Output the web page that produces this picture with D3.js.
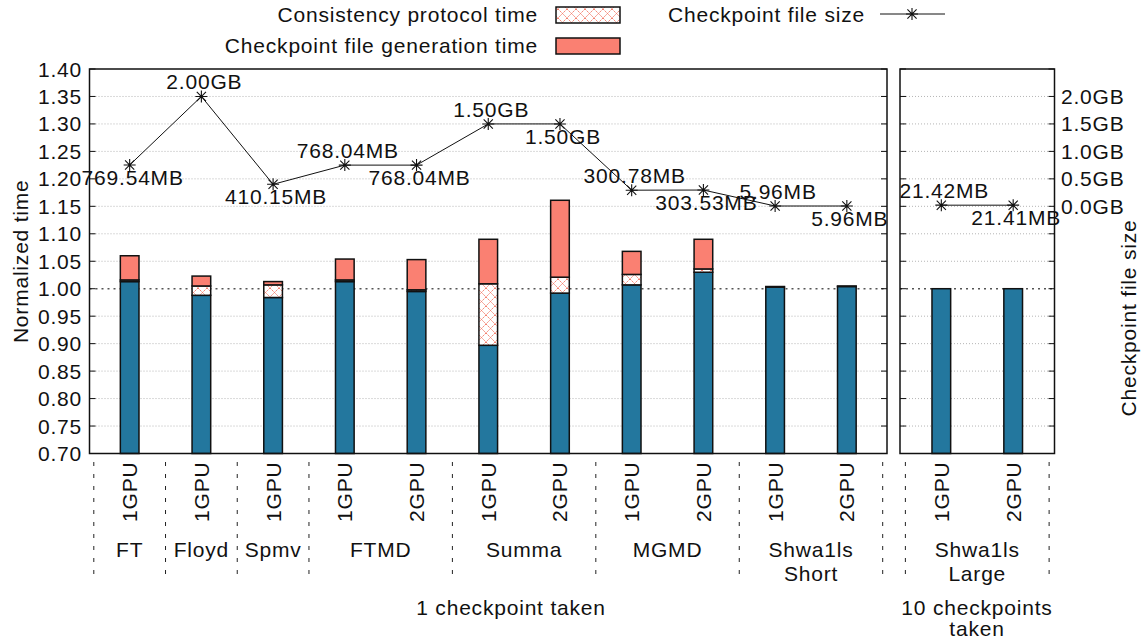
<!DOCTYPE html>
<html>
<head>
<meta charset="utf-8">
<script src="https://cdn.jsdelivr.net/npm/d3@7"></script>
<style>
  body { margin: 0; background: #fff; }
  text { font-family: "Liberation Sans", Arial, sans-serif; font-size: 21px; letter-spacing: 0.8px; fill: #111; }
</style>
</head>
<body>
<svg id="chart" width="1146" height="643"></svg>
<script>
// ---- data: 1 checkpoint taken ----
const benchmarks = ["FT", "Floyd", "Spmv", "FTMD", "FTMD", "Summa", "Summa", "MGMD", "MGMD", "Shwa1ls Short", "Shwa1ls Short"];
const gpuLabels = ["1GPU", "1GPU", "1GPU", "1GPU", "2GPU", "1GPU", "2GPU", "1GPU", "2GPU", "1GPU", "2GPU"];
const baseTime = [1.013, 0.988, 0.984, 1.013, 0.995, 0.897, 0.992, 1.007, 1.030, 1.003, 1.004];
const protocolTime = [0.003, 0.017, 0.023, 0.003, 0.003, 0.112, 0.029, 0.019, 0.006, 0.000, 0.000];
const generationTime = [0.044, 0.018, 0.006, 0.038, 0.055, 0.081, 0.140, 0.042, 0.054, 0.001, 0.001];
const fileSizeMB = [769.54, 2048, 410.15, 768.04, 768.04, 1536, 1536, 300.78, 303.53, 5.96, 5.96];

// ---- data: 10 checkpoints taken ----
const benchmarksMulti = ["Shwa1ls Large", "Shwa1ls Large"];
const gpuLabelsMulti = ["1GPU", "2GPU"];
const baseTimeMulti = [1.000, 1.000];
const protocolTimeMulti = [0.000, 0.000];
const generationTimeMulti = [0.000, 0.000];
const fileSizeMBMulti = [21.42, 21.41];

// ---- axes ----
const timeTicks = [0.70, 0.75, 0.80, 0.85, 0.90, 0.95, 1.00, 1.05, 1.10, 1.15, 1.20, 1.25, 1.30, 1.35, 1.40];
const sizeTicksGB = [0.0, 0.5, 1.0, 1.5, 2.0];
const legendLabels = ["Consistency protocol time", "Checkpoint file generation time", "Checkpoint file size"];
const axisTitles = ["Normalized time", "Checkpoint file size"];
const panelTitles = ["1 checkpoint taken", "10 checkpoints taken"];

const COLORS = { base: "#23779e", generation: "#fa8072", hatch: "#f4806f" };

const svg = d3.select("#chart");
const defs = svg.append("defs");
const pat = defs.append("pattern").attr("id", "hatch").attr("patternUnits", "userSpaceOnUse")
  .attr("width", 9).attr("height", 9);
pat.append("rect").attr("width", 9).attr("height", 9).attr("fill", "#fff");
pat.append("path").attr("d", "M0,0L9,9M9,0L0,9M-1,8L1,10M8,-1L10,1")
  .attr("stroke", COLORS.hatch).attr("stroke-width", 1).attr("stroke-dasharray", "2,1");

const plotTop = 69, plotBottom = 453.5;
const y = d3.scaleLinear().domain([0.70, 1.40]).range([plotBottom, plotTop]);
// file size shares the vertical space: 0 GB sits at 1.15, 2 GB at 1.35
const ySize = d3.scaleLinear().domain([0, 2]).range([y(1.15), y(1.35)]);

const fmtSize = mb => mb >= 1024 ? (mb / 1024).toFixed(2) + "GB" : mb.toFixed(2) + "MB";

function star(g, cx, cy) {
  const a = 6, d = 4.6;
  g.append("path")
    .attr("d", `M${cx - a},${cy}L${cx + a},${cy}M${cx},${cy - a}L${cx},${cy + a}` +
               `M${cx - d},${cy - d}L${cx + d},${cy + d}M${cx - d},${cy + d}L${cx + d},${cy - d}`)
    .attr("stroke", "#111").attr("stroke-width", 1.1).attr("fill", "none");
}

function drawPanel(p) {
  const x = d3.scaleLinear().domain(p.domain).range([p.left, p.right]);
  const g = svg.append("g");
  const n = p.names.length;
  const idx = d3.range(n);

  // grid
  timeTicks.forEach(t => {
    const isOne = Math.abs(t - 1) < 1e-9;
    if (t <= 0.7001 || t >= 1.3999) return;
    g.append("line").attr("x1", p.left).attr("x2", p.right).attr("y1", y(t)).attr("y2", y(t))
      .attr("stroke", isOne ? "#555" : "#b5b5b5")
      .attr("stroke-width", isOne ? 1.5 : 1)
      .attr("stroke-dasharray", isOne ? "2,4" : "1,2");
  });

  // stacked bars
  const bw = 0.26 * (x(1) - x(0));
  const segs = [];
  idx.forEach(i => {
    const b = p.base[i], pr = p.protocol[i], ge = p.generation[i];
    segs.push({ i, y0: 0.70, y1: b, fill: COLORS.base });
    segs.push({ i, y0: b, y1: b + pr, fill: "url(#hatch)" });
    segs.push({ i, y0: b + pr, y1: b + pr + ge, fill: COLORS.generation });
  });
  g.append("g").selectAll("rect").data(segs).join("rect")
    .attr("x", d => x(d.i) - bw / 2).attr("width", bw)
    .attr("y", d => y(d.y1)).attr("height", d => Math.max(0, y(d.y0) - y(d.y1)))
    .attr("fill", d => d.fill).attr("stroke", "#111").attr("stroke-width", 1.5);

  // file size line
  const pts = idx.map(i => [x(i), ySize(p.size[i] / 1024)]);
  g.append("path").attr("d", d3.line()(pts)).attr("fill", "none").attr("stroke", "#111").attr("stroke-width", 1);
  pts.forEach(([cx, cy]) => star(g, cx, cy));
  idx.forEach(i => {
    const below = (p.offset + i) % 2 === 0;
    g.append("text").attr("x", pts[i][0] + 3).attr("y", pts[i][1] + (below ? 20 : -7))
      .attr("text-anchor", "middle").text(fmtSize(p.size[i]));
  });

  // frame + inward ticks on both sides
  g.append("rect").attr("x", p.left).attr("y", plotTop).attr("width", p.right - p.left).attr("height", plotBottom - plotTop)
    .attr("fill", "none").attr("stroke", "#111").attr("stroke-width", 1.5);
  timeTicks.forEach(t => {
    g.append("line").attr("x1", p.left).attr("x2", p.left + 6).attr("y1", y(t)).attr("y2", y(t)).attr("stroke", "#111");
    g.append("line").attr("x1", p.right).attr("x2", p.right - 6).attr("y1", y(t)).attr("y2", y(t)).attr("stroke", "#111");
  });

  // rotated GPU labels
  idx.forEach(i => {
    g.append("text").attr("transform", `translate(${x(i) + 7.5},${plotBottom + 8}) rotate(-90)`)
      .attr("text-anchor", "end").text(p.gpus[i]);
  });

  // benchmark groups
  const groups = [];
  idx.forEach(i => {
    const last = groups[groups.length - 1];
    if (last && last.name === p.names[i]) last.end = i; else groups.push({ name: p.names[i], start: i, end: i });
  });
  const sepX = [x(-0.5), ...groups.map(gr => x(gr.end + 0.5))];
  sepX.forEach(sx => g.append("line").attr("x1", sx).attr("x2", sx).attr("y1", 462).attr("y2", 578)
    .attr("stroke", "#222").attr("stroke-width", 1).attr("stroke-dasharray", "4,8"));
  groups.forEach(gr => {
    const cx = x((gr.start + gr.end) / 2);
    const t = g.append("text").attr("x", cx).attr("y", 557).attr("text-anchor", "middle");
    gr.name.split(" ").forEach((w, k) => t.append("tspan").attr("x", cx).attr("dy", k ? 24 : 0).text(w));
  });
  return x;
}

const x1 = drawPanel({ left: 89.5, right: 887, domain: [-0.56, 10.56], names: benchmarks, gpus: gpuLabels,
  base: baseTime, protocol: protocolTime, generation: generationTime, size: fileSizeMB, offset: 0 });
const x2 = drawPanel({ left: 900, right: 1054.5, domain: [-0.575, 1.575], names: benchmarksMulti, gpus: gpuLabelsMulti,
  base: baseTimeMulti, protocol: protocolTimeMulti, generation: generationTimeMulti, size: fileSizeMBMulti, offset: 1 });

// left axis labels
timeTicks.forEach(t => svg.append("text").attr("x", 82).attr("y", y(t) + 7.5).attr("text-anchor", "end").text(t.toFixed(2)));
svg.append("text").attr("transform", `translate(28,${(plotTop + plotBottom) / 2}) rotate(-90)`).attr("text-anchor", "middle").text(axisTitles[0]);

// right axis labels (file size)
sizeTicksGB.forEach(s => svg.append("text").attr("x", 1061).attr("y", ySize(s) + 7.5).text(s.toFixed(1) + "GB"));
svg.append("text").attr("transform", `translate(1136,318) rotate(-90)`).attr("text-anchor", "middle").text(axisTitles[1]);

// panel titles
svg.append("text").attr("x", 511).attr("y", 615).attr("text-anchor", "middle").text(panelTitles[0]);
const t2 = svg.append("text").attr("x", 977).attr("y", 615).attr("text-anchor", "middle");
t2.append("tspan").attr("x", 977).text("10 checkpoints");
t2.append("tspan").attr("x", 977).attr("dy", 21).text("taken");

// legend
const lg = svg.append("g");
lg.append("text").attr("x", 538).attr("y", 22).attr("text-anchor", "end").text(legendLabels[0]);
lg.append("rect").attr("x", 556).attr("y", 7).attr("width", 64).attr("height", 16)
  .attr("fill", "url(#hatch)").attr("stroke", "#111").attr("stroke-width", 1.5);
lg.append("text").attr("x", 538).attr("y", 53).attr("text-anchor", "end").text(legendLabels[1]);
lg.append("rect").attr("x", 556).attr("y", 38).attr("width", 64).attr("height", 16)
  .attr("fill", COLORS.generation).attr("stroke", "#111").attr("stroke-width", 1.5);
lg.append("text").attr("x", 865).attr("y", 22).attr("text-anchor", "end").text(legendLabels[2]);
lg.append("line").attr("x1", 880).attr("x2", 945).attr("y1", 14).attr("y2", 14).attr("stroke", "#111");
star(lg, 912, 14);
</script>
</body>
</html>
